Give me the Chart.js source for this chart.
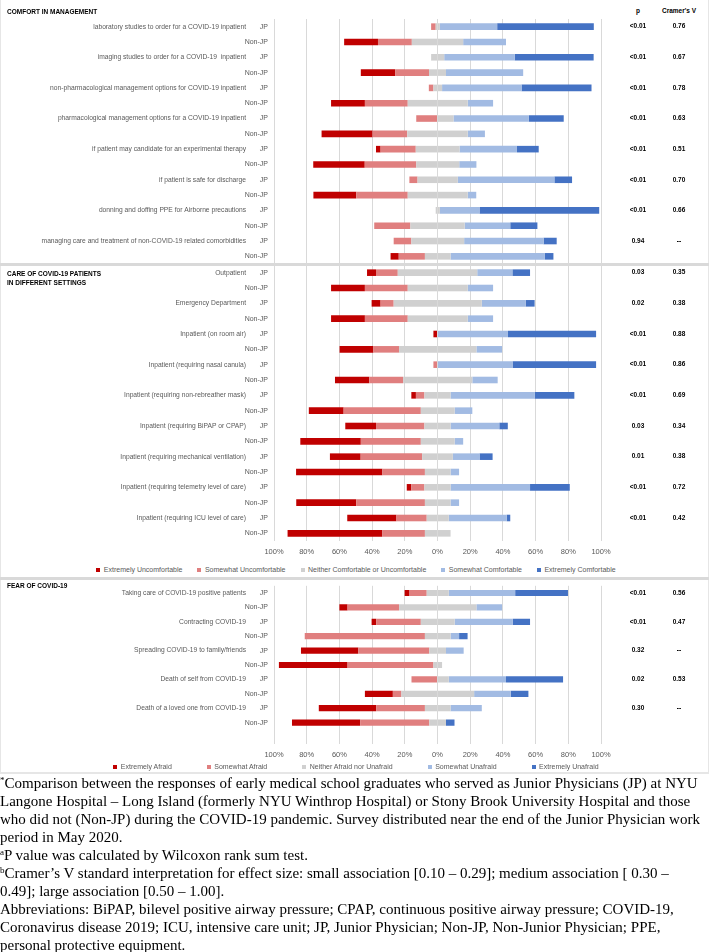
<!DOCTYPE html>
<html>
<head>
<meta charset="utf-8">
<script src="https://cdn.jsdelivr.net/npm/chart.js@4.4.1/dist/chart.umd.min.js"></script>
<style>
  html, body { margin: 0; padding: 0; background: #fff; }
  body { position: relative; width: 709px; height: 952px; overflow: hidden; font-family: 'Liberation Sans Narrow', 'Liberation Sans', sans-serif; }
  canvas { position: absolute; left: 0; }
  .sep { position: absolute; left: 0; width: 709px; background: #d9d9d9; z-index: 2; }
  .frame { position: absolute; left: 0; width: 707px; border: 1px solid #e6e6e6; border-top: none; border-bottom: none; }
  .ttl { position: absolute; left: 7px; font-weight: bold; font-size: 6.5px; line-height: 8.5px; color: #000; z-index: 3; }
  .hdr { position: absolute; top: 7px; font-weight: bold; font-size: 6.5px; color: #000; transform: translateX(-50%); white-space: nowrap; }
  .legend { position: absolute; left: 0; width: 712px; display: flex; justify-content: center; font-size: 7px; line-height: 8px; color: #595959; white-space: nowrap; }
  .legend span { display: inline-flex; align-items: center; }
  .legend i { display: inline-block; width: 4px; height: 4px; margin-right: 3.5px; }
  #notes { position: absolute; left: 0; top: 774px; width: 709px; font-family: 'Liberation Serif', serif; font-size: 15px; line-height: 18px; color: #000; white-space: nowrap; }
  #notes sup { font-size: 9px; vertical-align: 5px; line-height: 0; }
</style>
</head>
<body>
<div class="frame" style="top:0;height:263px"></div>
<div class="frame" style="top:266px;height:311px"></div>
<div class="frame" style="top:580px;height:193px"></div>
<div class="sep" style="top:263px;height:3px"></div>
<div class="sep" style="top:577px;height:3px"></div>
<div class="sep" style="top:772px;height:2px;background:#e6e6e6"></div>

<div class="ttl" style="top:8px">COMFORT IN MANAGEMENT</div>
<div class="hdr" style="left:638px">p</div>
<div class="hdr" style="left:679px">Cramer's V</div>
<div class="ttl" style="top:270px">CARE OF COVID-19 PATIENTS<br>IN DIFFERENT SETTINGS</div>
<div class="ttl" style="top:582px">FEAR OF COVID-19</div>

<canvas id="c1" width="709" height="264" style="top:0"></canvas>
<canvas id="c2" width="709" height="300" style="top:264px"></canvas>
<canvas id="c3" width="709" height="190" style="top:578px"></canvas>

<div class="legend" id="lg2" style="top:566px;gap:15px"></div>
<div class="legend" id="lg3" style="top:763px;gap:35px"></div>

<div id="notes"><sup>*</sup>Comparison between the responses of early medical school graduates who served as Junior Physicians (JP) at NYU<br>Langone Hospital – Long Island (formerly NYU Winthrop Hospital) or Stony Brook University Hospital and those<br>who did not (Non-JP) during the COVID-19 pandemic. Survey distributed near the end of the Junior Physician work<br>period in May 2020.<br><sup>a</sup>P value was calculated by Wilcoxon rank sum test.<br><sup>b</sup>Cramer’s V standard interpretation for effect size: small association [0.10 – 0.29]; medium association [ 0.30 –<br>0.49]; large association [0.50 – 1.00].<br>Abbreviations: BiPAP, bilevel positive airway pressure; CPAP, continuous positive airway pressure; COVID-19,<br>Coronavirus disease 2019; ICU, intensive care unit; JP, Junior Physician; Non-JP, Non-Junior Physician; PPE,<br>personal protective equipment.</div>

<script>
// ---- Comfort in management (rows: JP, Non-JP per item) ----
const mgmtItems = [
  'laboratory studies to order for a COVID-19 inpatient',
  'imaging studies to order for a COVID-19  inpatient',
  'non-pharmacological management options for COVID-19 inpatient',
  'pharmacological management options for a COVID-19 inpatient',
  'if patient may candidate for an experimental therapy',
  'if patient is safe for discharge',
  'donning and doffing PPE for Airborne precautions',
  'managing care and treatment of non-COVID-19 related comorbidities'
];
const mgmtP = ['<0.01', '<0.01', '<0.01', '<0.01', '<0.01', '<0.01', '<0.01', '0.94'];
const mgmtV = ['0.76', '0.67', '0.78', '0.63', '0.51', '0.70', '0.66', '--'];
const mgmtExtUnc  = [0, 20.7, 0, 21.0, 0, 20.7, 0, 31.2, 2.8, 31.5, 0, 26.2, 0, 0, 0, 5.0];
const mgmtSomeUnc = [2.8, 20.7, 0, 20.7, 2.8, 26.2, 13.0, 21.2, 21.5, 31.5, 5.0, 31.5, 0, 22.1, 10.8, 16.0];
const mgmtNeitherL = [1.1, 15.7, 3.9, 5.2, 2.5, 18.2, 0, 18.5, 13.3, 13.0, 12.2, 18.2, 1.1, 16.6, 16.0, 7.7];
const mgmtNeitherR = [1.4, 15.7, 4.1, 5.2, 2.8, 18.5, 9.8, 18.5, 13.5, 13.3, 12.4, 18.5, 1.4, 16.6, 16.3, 8.0];
const mgmtSomeCom = [35.1, 26.2, 43.1, 47.2, 48.6, 15.5, 46.1, 10.5, 35.1, 10.5, 59.1, 5.2, 24.3, 27.9, 48.6, 57.7];
const mgmtExtCom  = [59.1, 0, 48.3, 0, 42.8, 0, 21.3, 0, 13.3, 0, 10.8, 0, 73.2, 16.6, 8.0, 5.2];

// ---- Care of COVID-19 patients in different settings ----
const careItems = [
  'Outpatient',
  'Emergency Department',
  'Inpatient (on room air)',
  'Inpatient (requiring nasal canula)',
  'Inpatient (requiring non-rebreather mask)',
  'Inpatient (requiring BiPAP or CPAP)',
  'Inpatient (requiring mechanical ventilation)',
  'Inpatient (requiring telemetry level of care)',
  'Inpatient (requiring ICU level of care)'
];
const careP = ['0.03', '0.02', '<0.01', '<0.01', '<0.01', '0.03', '0.01', '<0.01', '<0.01'];
const careV = ['0.35', '0.38', '0.88', '0.86', '0.69', '0.34', '0.38', '0.72', '0.42'];
const careExtUnc  = [5.5, 20.7, 5.5, 20.7, 2.5, 20.7, 0, 21.0, 2.8, 21.3, 18.8, 37.0, 18.8, 52.8, 2.8, 36.7, 30.1, 58.0];
const careSomeUnc = [13.3, 26.2, 8.0, 26.2, 0, 15.7, 2.5, 20.7, 5.2, 47.2, 29.6, 36.7, 37.6, 26.0, 8.0, 42.0, 18.5, 26.0];
const careNeitherL = [24.3, 18.2, 26.8, 18.2, 0, 23.5, 0, 21.0, 8.0, 10.2, 8.0, 10.2, 9.4, 7.7, 8.0, 7.7, 6.6, 7.7];
const careNeitherR = [24.3, 18.5, 27.1, 18.5, 0, 23.8, 0, 21.3, 8.0, 10.5, 8.0, 10.5, 9.4, 8.0, 8.0, 8.0, 6.9, 8.0];
const careSomeCom = [21.5, 15.5, 26.8, 15.5, 43.1, 15.7, 45.9, 15.5, 51.4, 10.8, 29.8, 5.2, 16.3, 5.2, 48.6, 5.2, 35.4, 0];
const careExtCom  = [10.8, 0, 5.5, 0, 53.9, 0, 51.1, 0, 24.3, 0, 5.2, 0, 8.0, 0, 24.3, 0, 2.2, 0];

// ---- Fear of COVID-19 ----
const fearItems = [
  'Taking care of COVID-19 positive patients',
  'Contracting COVID-19',
  'Spreading COVID-19 to family/friends',
  'Death of self from COVID-19',
  'Death of a loved one from COVID-19'
];
const fearP = ['<0.01', '<0.01', '0.32', '0.02', '0.30'];
const fearV = ['0.56', '0.47', '--', '0.53', '--'];
const fearExtAfraid  = [3.0, 5.0, 2.8, 0, 35.1, 42.0, 0, 17.1, 35.1, 41.7];
const fearSomeAfraid = [10.5, 31.5, 27.3, 73.5, 43.4, 52.5, 15.9, 5.2, 29.8, 42.3];
const fearNeitherL   = [6.6, 23.5, 10.2, 7.7, 5.0, 2.5, 0, 22.1, 7.7, 5.0];
const fearNeitherR   = [6.9, 23.8, 10.5, 8.0, 5.2, 2.8, 6.9, 22.4, 8.0, 5.2];
const fearSomeUnafraid = [40.6, 15.7, 35.6, 5.2, 10.8, 0, 35.0, 22.4, 19.1, 0];
const fearExtUnafraid  = [32.3, 0, 10.5, 5.2, 0, 0, 34.9, 10.8, 0, 5.2];

const groups = ['JP', 'Non-JP'];
const xTicks = [-100, -80, -60, -40, -20, 0, 20, 40, 60, 80, 100];

const comfortNames = ['Extremely Uncomfortable', 'Somewhat Uncomfortable', 'Neither Comfortable or Uncomfortable', 'Somewhat Comfortable', 'Extremely Comfortable'];
const fearNames = ['Extremely Afraid', 'Somewhat Afraid', 'Neither Afraid nor Unafraid', 'Somewhat Unafraid', 'Extremely Unafraid'];

const colors = ['#c00000', '#e07f7f', '#d0d0d0', '#a2bbe3', '#4472c4'];
const FONT = "'Liberation Sans Narrow', 'Liberation Sans', sans-serif";

Chart.defaults.font.family = FONT;
Chart.defaults.color = '#595959';

// Item names on the left, p / Cramer's V on the right, placed on the y scale
const sideText = {
  id: 'sideText',
  afterDraw(chart, args, opts) {
    const ctx = chart.ctx;
    const y = chart.scales.y;
    ctx.save();
    ctx.textBaseline = 'middle';
    opts.items.forEach((name, i) => {
      const py = y.getPixelForValue(i * 2);
      ctx.font = '6.7px ' + FONT;
      ctx.fillStyle = '#595959';
      ctx.textAlign = 'right';
      ctx.fillText(name, 246, py);
      ctx.font = 'bold 6.5px ' + FONT;
      ctx.fillStyle = '#000';
      ctx.textAlign = 'center';
      ctx.fillText(opts.p[i], 638, py);
      ctx.fillText(opts.v[i], 679, py);
    });
    ctx.restore();
  }
};

const neg = arr => arr.map(v => -v);

function buildDatasets(extN, someN, neuL, neuR, someP, extP, names) {
  const common = { barPercentage: 0.43, categoryPercentage: 1, borderWidth: 0 };
  // negative side stacks outward from zero: neutral half, somewhat, extremely
  return [
    { ...common, label: names[2], data: neg(neuL), backgroundColor: colors[2] },
    { ...common, label: names[1], data: neg(someN), backgroundColor: colors[1] },
    { ...common, label: names[0], data: neg(extN), backgroundColor: colors[0] },
    { ...common, label: names[2], data: neuR, backgroundColor: colors[2] },
    { ...common, label: names[3], data: someP, backgroundColor: colors[3] },
    { ...common, label: names[4], data: extP, backgroundColor: colors[4] }
  ];
}

function buildLegend(id, names) {
  const el = document.getElementById(id);
  names.forEach((n, i) => {
    const item = document.createElement('span');
    const box = document.createElement('i');
    box.style.background = colors[i];
    item.appendChild(box);
    item.appendChild(document.createTextNode(n));
    el.appendChild(item);
  });
}

function makeChart(id, labels, datasets, side, opt) {
  return new Chart(document.getElementById(id), {
    type: 'bar',
    data: { labels, datasets },
    plugins: [sideText],
    options: {
      indexAxis: 'y',
      responsive: false,
      animation: false,
      layout: { padding: { top: opt.top, right: 108, left: 0, bottom: 0 } },
      scales: {
        x: {
          stacked: true,
          min: -100,
          max: 100,
          afterBuildTicks: s => { s.ticks = xTicks.map(v => ({ value: v })); },
          afterFit: s => { s.height = opt.xHeight; },
          grid: { color: '#d9d9d9', drawTicks: false },
          border: { display: false },
          ticks: {
            display: opt.showTicks,
            padding: 6,
            font: { size: 7.5 },
            callback: v => Math.abs(v) + '%'
          }
        },
        y: {
          stacked: true,
          afterFit: s => {
            s.width = 274;
            s.paddingTop = 0;
            s.paddingBottom = 0;
          },
          grid: { display: false, drawTicks: false },
          border: { display: false },
          ticks: { padding: 6, font: { size: 7 }, color: '#595959' }
        }
      },
      plugins: {
        tooltip: { enabled: false },
        legend: { display: false },
        sideText: side
      }
    }
  });
}

const mgmtLabels = mgmtItems.flatMap(() => groups);
makeChart('c1', mgmtLabels,
  buildDatasets(mgmtExtUnc, mgmtSomeUnc, mgmtNeitherL, mgmtNeitherR, mgmtSomeCom, mgmtExtCom, comfortNames),
  { items: mgmtItems, p: mgmtP, v: mgmtV },
  { top: 19, xHeight: 0, showTicks: false });

const careLabels = careItems.flatMap(() => groups);
makeChart('c2', careLabels,
  buildDatasets(careExtUnc, careSomeUnc, careNeitherL, careNeitherR, careSomeCom, careExtCom, comfortNames),
  { items: careItems, p: careP, v: careV },
  { top: 1, xHeight: 23, showTicks: true });
buildLegend('lg2', comfortNames);

// one empty slot after the last row, as in the source layout
const fearLabels = fearItems.flatMap(() => groups).concat(['']);
makeChart('c3', fearLabels,
  buildDatasets(fearExtAfraid, fearSomeAfraid, fearNeitherL, fearNeitherR, fearSomeUnafraid, fearExtUnafraid, fearNames),
  { items: fearItems, p: fearP, v: fearV },
  { top: 7.8, xHeight: 23.8, showTicks: true });
buildLegend('lg3', fearNames);
</script>
</body>
</html>
